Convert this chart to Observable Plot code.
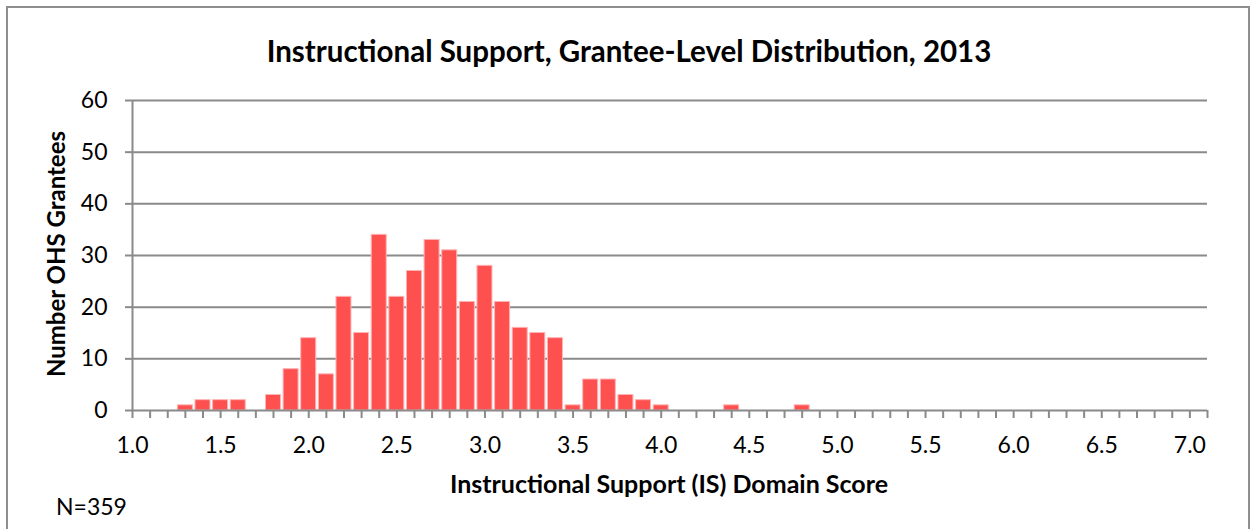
<!DOCTYPE html>
<html>
<head>
<meta charset="utf-8">
<script src="https://cdn.jsdelivr.net/npm/d3@7"></script>
<script src="https://cdn.jsdelivr.net/npm/@observablehq/plot@0.6"></script>
<style>
  html, body { margin: 0; padding: 0; background: #fff; }
  #wrap { position: relative; width: 1252px; height: 529px; overflow: hidden; font-family: Lato, "Open Sans", sans-serif; }
  #frame { position: absolute; left: 6px; top: 6px; width: 1244px; height: 560px; border: 2px solid #8e8e8e; box-sizing: border-box; }
  #chart, #labels { position: absolute; left: 0; top: 0; }
  #labels text { font-family: Lato, "Open Sans", sans-serif; fill: #000; }
</style>
</head>
<body>
<div id="wrap">
  <div id="frame"></div>
  <div id="chart"></div>
  <svg id="labels" width="1252" height="529">
    <text x="629" y="62" text-anchor="middle" font-weight="bold" font-size="29.5">Instructional Support, Grantee-Level Distribution, 2013</text>
    <text x="669" y="493" text-anchor="middle" font-weight="bold" font-size="25">Instructional Support (IS) Domain Score</text>
    <text transform="translate(65,254) rotate(-90)" text-anchor="middle" font-weight="bold" font-size="24">Number OHS Grantees</text>
    <text x="56" y="515" font-size="23">N=359</text>
  </svg>
</div>
<script>
const scores = [
  1.0,1.1,1.2,1.3,1.4,1.5,1.6,1.7,1.8,1.9,
  2.0,2.1,2.2,2.3,2.4,2.5,2.6,2.7,2.8,2.9,
  3.0,3.1,3.2,3.3,3.4,3.5,3.6,3.7,3.8,3.9,
  4.0,4.1,4.2,4.3,4.4,4.5,4.6,4.7,4.8,4.9,
  5.0,5.1,5.2,5.3,5.4,5.5,5.6,5.7,5.8,5.9,
  6.0,6.1,6.2,6.3,6.4,6.5,6.6,6.7,6.8,6.9,
  7.0
];
const counts = [
  0,0,0,1,2,2,2,0,3,8,
  14,7,22,15,34,22,27,33,31,21,
  28,21,16,15,14,1,6,6,3,2,
  1,0,0,0,1,0,0,0,1,0,
  0,0,0,0,0,0,0,0,0,0,
  0,0,0,0,0,0,0,0,0,0,
  0
];
const xLabelTicks = [1.0,1.5,2.0,2.5,3.0,3.5,4.0,4.5,5.0,5.5,6.0,6.5,7.0];
const yTicks = [0,10,20,30,40,50,60];
const xDomain = [1.0, 7.1];
const yDomain = [0, 60];

const data = scores.map((s, i) => ({score: s, count: counts[i]}));
const minorTicks = d3.range(0, 62).map(i => +(1 + i / 10).toFixed(1));
const halfW = 0.0425;
const gray = "#8a8a8a";

const chart = Plot.plot({
  width: 1252,
  height: 529,
  marginLeft: 132,
  marginRight: 45,
  marginTop: 100,
  marginBottom: 119,
  style: {fontFamily: "Lato, 'Open Sans', sans-serif", fontSize: "23px", color: "#000", background: "transparent", overflow: "visible"},
  x: {domain: xDomain, label: null},
  y: {domain: yDomain, label: null},
  marks: [
    Plot.gridY(yTicks.filter(d => d > 0), {stroke: gray, strokeOpacity: 1, strokeWidth: 2}),
    Plot.rectY(data.filter(d => d.count > 0), {
      x1: d => d.score - halfW,
      x2: d => d.score + halfW,
      y: "count",
      fill: "#ff5050",
      stroke: "#ffb3b3",
      strokeWidth: 1
    }),
    Plot.axisX(minorTicks, {tickSize: 8, tickFormat: () => "", stroke: gray, strokeWidth: 2}),
    Plot.axisX(xLabelTicks, {tickSize: 0, tickPadding: 26, tickFormat: d3.format(".1f"), fill: "#000", fontSize: 23}),
    Plot.axisY(yTicks, {tickSize: 7, tickPadding: 18, tickFormat: d => String(d), stroke: gray, strokeWidth: 2, fill: "#000", fontSize: 23}),
    Plot.ruleY([0], {stroke: gray, strokeWidth: 2}),
    Plot.ruleX([xDomain[0]], {y1: yDomain[0], y2: yDomain[1], stroke: gray, strokeWidth: 2})
  ]
});
document.getElementById("chart").appendChild(chart);
</script>
</body>
</html>
